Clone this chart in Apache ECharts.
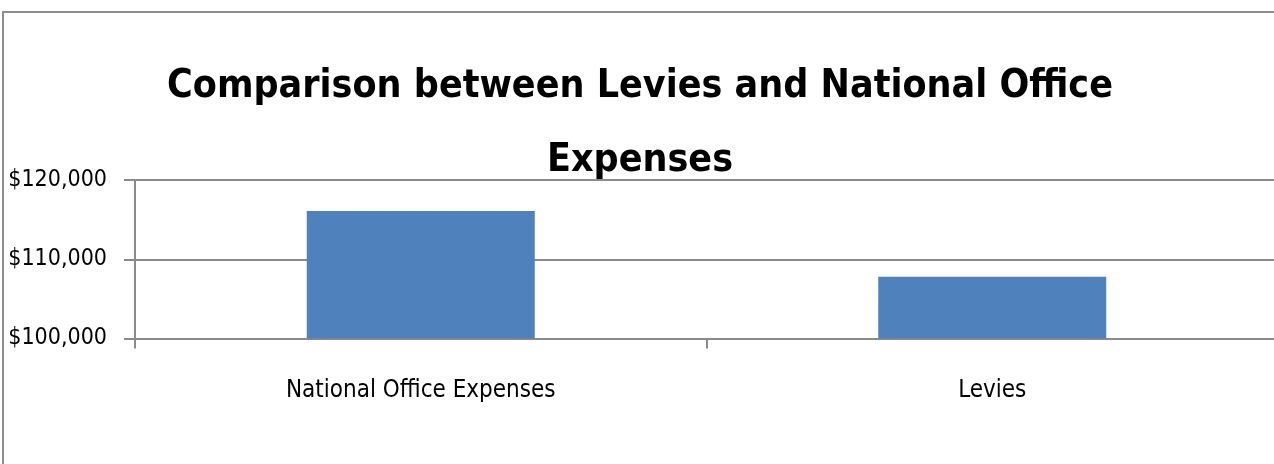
<!DOCTYPE html>
<html>
<head>
<meta charset="utf-8">
<script src="https://cdn.jsdelivr.net/npm/echarts@6/dist/echarts.min.js"></script>
<style>
html,body{margin:0;padding:0;background:#fff;}
#chart{width:1274px;height:464px;}
</style>
</head>
<body>
<div id="chart"></div>
<script>
const titleText = 'Comparison between Levies and National Office\nExpenses';
const categories = ['National Office Expenses', 'Levies'];
const values = [116100, 107800];
const yTicks = { min: 100000, max: 120000, interval: 10000 };

const FONT = "'DejaVu Sans Condensed', 'Liberation Sans', sans-serif";
const GRAY = '#8a8a8a';

const chart = echarts.init(document.getElementById('chart'), null, { renderer: 'canvas' });
chart.setOption({
  backgroundColor: '#ffffff',
  animation: false,
  title: {
    text: titleText,
    left: 640,
    textAlign: 'center',
    top: 50,
    padding: 0,
    textStyle: {
      fontFamily: FONT,
      fontWeight: 'bold',
      fontSize: 39,
      lineHeight: 74,
      color: '#000'
    }
  },
  graphic: [{
    type: 'rect',
    shape: { x: 3, y: 12, width: 1300, height: 520 },
    style: { fill: null, stroke: '#8e8e8e', lineWidth: 2 },
    silent: true,
    z: 0
  }],
  grid: { left: 135, right: -4, top: 180, bottom: 125.5, containLabel: false, outerBoundsMode: 'none' },
  xAxis: {
    type: 'category',
    data: categories,
    axisLine: { lineStyle: { color: GRAY, width: 2 } },
    axisTick: { show: true, length: 10, lineStyle: { color: GRAY, width: 2 } },
    axisLabel: { fontFamily: FONT, fontSize: 24, color: '#000', margin: 40 },
    splitLine: { show: false }
  },
  yAxis: {
    type: 'value',
    min: yTicks.min,
    max: yTicks.max,
    interval: yTicks.interval,
    axisLine: { show: true, lineStyle: { color: GRAY, width: 2 } },
    axisTick: { show: true, length: 11, lineStyle: { color: GRAY, width: 2 } },
    axisLabel: {
      fontFamily: FONT, fontSize: 23, color: '#000', margin: 28,
      formatter: v => '$' + v.toLocaleString('en-US')
    },
    splitLine: { show: true, lineStyle: { color: GRAY, width: 2 } }
  },
  series: [{
    type: 'bar',
    data: values,
    barWidth: 228,
    itemStyle: { color: '#4F81BD' }
  }]
});
</script>
</body>
</html>
